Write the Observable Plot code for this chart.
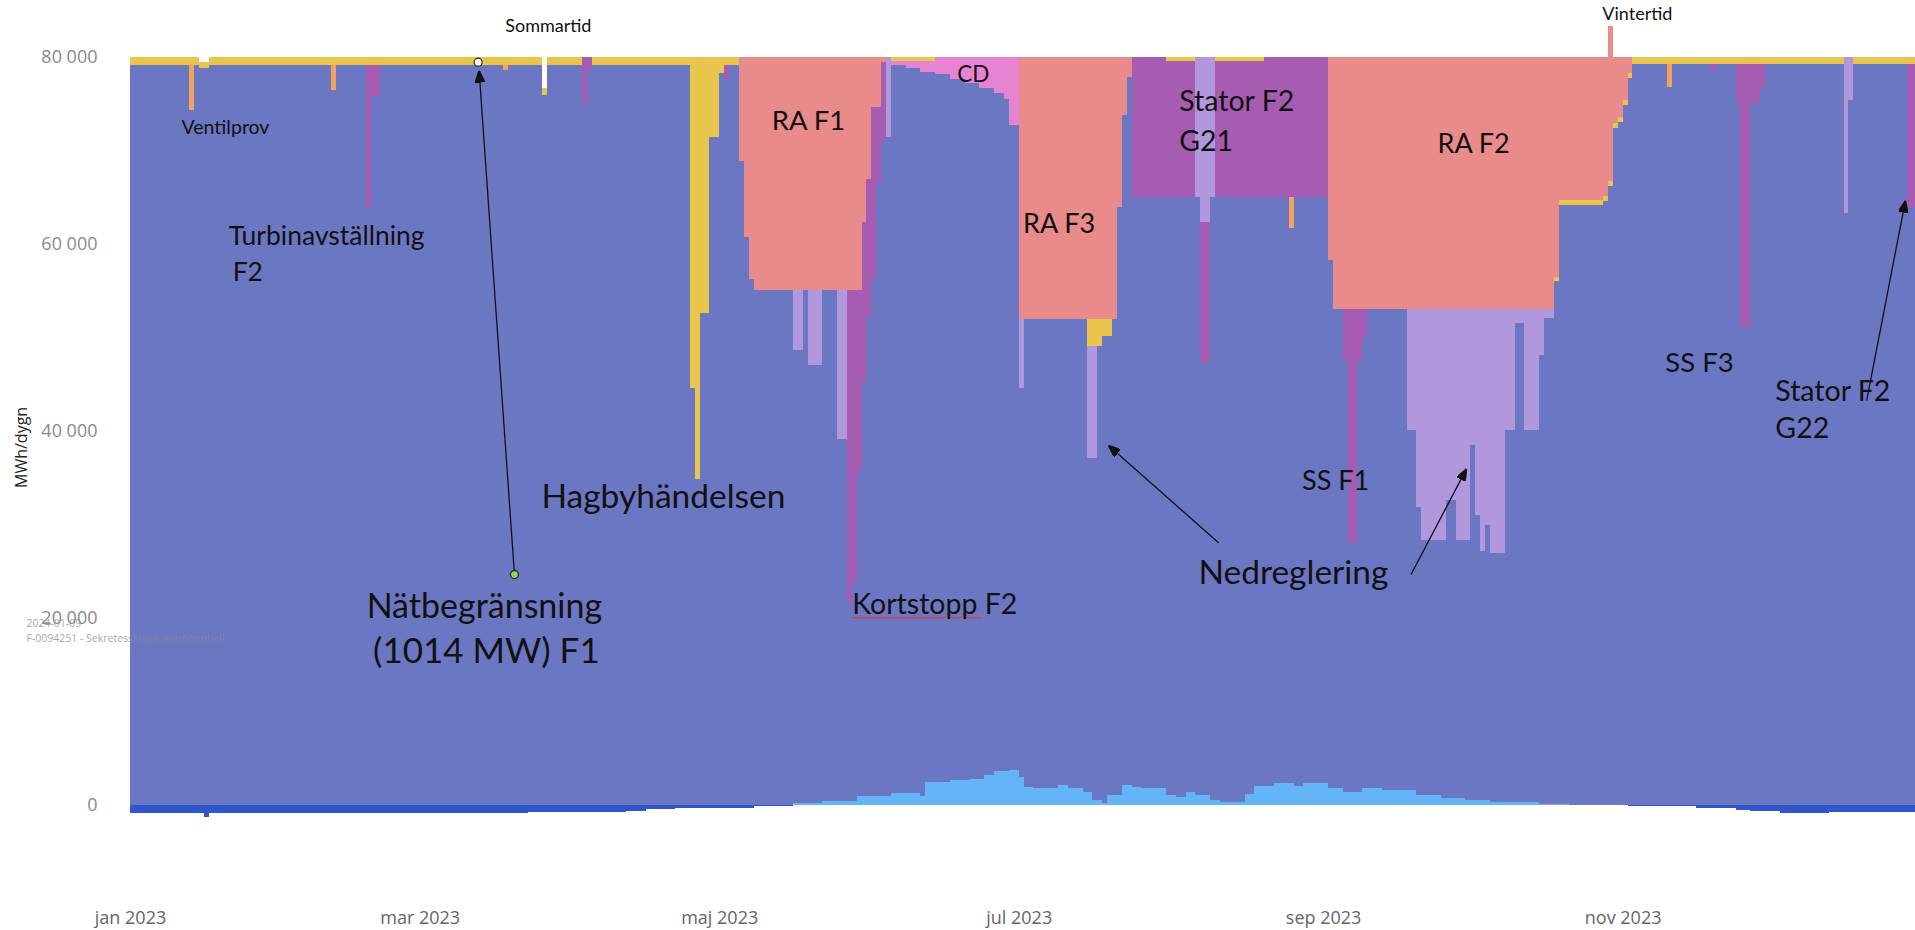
<!DOCTYPE html>
<html>
<head>
<meta charset="utf-8">
<script src="https://cdn.jsdelivr.net/npm/d3@7"></script>
<script src="https://cdn.jsdelivr.net/npm/@observablehq/plot@0.6"></script>
<style>
  html, body { margin: 0; padding: 0; background: #ffffff; }
  #chart { width: 1915px; height: 930px; }
</style>
</head>
<body>
<div id="chart"></div>
<script>
// ---------- DATA (MWh/dygn), change points: [dag (0 = 1 jan 2023), värde] ----------
// each value holds until the next change point (daily step data)
const kapacitet = [[0, 80000], [14, 79500], [16, 80000], [84, 76700], [85, 80000], [301, 83300], [302, 80000]];

// Revisionsavställningar (RA F1, RA F3, RA F2)
const revision = [[0, 0], [124, 11100], [125, 19300], [126, 23700], [127, 24900], [149, 17600], [150, 13100], [151, 5400], [153, 500], [154, 0],
  [181, 28000], [201, 16000], [202, 6200], [203, 2100], [204, 0],
  [244, 21700], [245, 26900], [290, 23500], [291, 15300], [300, 14900], [301, 16600], [302, 7100], [303, 6400], [304, 4600], [305, 1700], [306, 0]];

// Övrigt / nätbegränsning (gul)
const ovrigt = [[0, 900], [14, 700], [16, 900], [84, 800], [85, 900], [92, 0], [94, 900],
  [114, 35400], [115, 45100], [116, 27400], [118, 8600], [120, 1700], [121, 900], [124, 0],
  [155, 400], [164, 0], [195, 2900], [198, 1800], [200, 0],
  [211, 400], [217, 0], [221, 400], [231, 0], [290, 500], [306, 700], [349, 0], [351, 700]];

// Coast down (CD)
const coastdown = [[0, 0], [155, 500], [158, 800], [161, 1200], [164, 1800], [167, 2300], [170, 2800], [173, 3300], [176, 3900], [178, 4500], [179, 7300], [181, 0]];

// Nedreglering
const nedreglering = [[0, 0], [135, 6400], [137, 0], [138, 8000], [141, 0], [144, 16000], [146, 0], [154, 8600], [155, 0],
  [181, 7400], [182, 0], [195, 12000], [197, 0],
  [217, 15000], [218, 17600], [220, 15000], [221, 0],
  [260, 13000], [262, 21200], [263, 24800], [268, 20500], [270, 24800], [273, 14600], [274, 22100], [275, 25900], [276, 23200], [277, 26200],
  [280, 13000], [282, 1500], [284, 13000], [287, 5000], [288, 1000], [290, 0],
  [349, 16700], [350, 4600], [351, 0]];

// Störningar: turbinavställning, kortstopp, stator, SS (lila)
const storning = [[0, 0], [48, 15100], [49, 3300], [51, 0], [92, 5100], [93, 1400], [94, 0], [121, 1500], [122, 0],
  [146, 33600], [147, 31100], [148, 19300], [149, 17200], [150, 14700], [151, 18300], [152, 8100], [153, 8500], [154, 0],
  [204, 15000], [211, 14600], [217, 0], [218, 15100], [220, 0], [221, 14600], [231, 15000], [244, 0],
  [247, 5500], [248, 25100], [250, 5500], [251, 3000], [252, 0],
  [322, 900], [323, 0], [327, 4200], [328, 28100], [330, 4200], [332, 2500], [333, 0], [362, 15300]];

// Ventilprov (orange)
const ventilprov = [[0, 0], [12, 4800], [13, 0], [41, 2600], [42, 0], [76, 500], [77, 0], [236, 3300], [237, 0], [313, 2500], [314, 0]];

// Havsvattentemperatur: vinst (negativ) / förlust (positiv)
const havsvatten = [[0, -850], [15, -1300], [16, -850], [41, -900], [81, -800], [101, -600], [105, -400], [111, -300], [118, -350], [127, -150],
  [135, 200], [141, 400], [148, 1000], [155, 1300], [161, 1000], [162, 2500], [167, 2700], [171, 2800], [174, 3200], [176, 3600], [179, 3700],
  [181, 3000], [182, 1900], [184, 1800], [189, 2100], [191, 1800], [194, 1400], [196, 500], [198, 200], [199, 1100], [202, 2100], [204, 1900],
  [206, 1800], [211, 1100], [213, 900], [215, 1400], [217, 1100], [220, 500], [222, 300], [227, 1200], [229, 2000], [233, 2400], [237, 2000],
  [239, 2300], [244, 1800], [247, 1400], [251, 1800], [255, 1600], [262, 1100], [267, 700], [272, 500], [277, 350], [287, 100], [293, 0],
  [298, -50], [305, -150], [319, -300], [327, -500], [330, -600], [336, -900], [346, -700], [357, -800]];

// Axes
const xTickDays = [0, 59, 120, 181, 243, 304];
const xTickLabels = ["jan 2023", "mar 2023", "maj 2023", "jul 2023", "sep 2023", "nov 2023"];
const yTicks = [0, 20000, 40000, 60000, 80000];
const yTickLabels = ["0", "20 000", "40 000", "60 000", "80 000"];

// Series names, colours (stack order bottom -> top)
const seriesNames = ["Havsvatten vinst", "Havsvatten förlust", "Produktion", "Ventilprov", "Störning", "Nedreglering", "CD", "Övrigt", "RA"];
const seriesColors = ["#2f56cb", "#63b5f8", "#6c77c3", "#f2a35f", "#a65cb0", "#b197dc", "#e784d2", "#e8c64c", "#e98b8b"];

// Annotations (day, value)
const annotations = [
  {text: "Sommartid", day: 85.1, value: 83300, size: 18, anchor: "middle"},
  {text: "Vintertid", day: 306.9, value: 84600, size: 18, anchor: "middle"},
  {text: "Ventilprov", day: 10.4, value: 72500, size: 19.5, anchor: "start"},
  {text: "Turbinavställning", day: 20.0, value: 60900, size: 26.5, anchor: "start"},
  {text: "F2", day: 20.8, value: 57000, size: 26.5, anchor: "start"},
  {text: "Hagbyhändelsen", day: 83.7, value: 33000, size: 33.5, anchor: "start"},
  {text: "Nätbegränsning", day: 48.1, value: 21200, size: 34, anchor: "start"},
  {text: "(1014 MW) F1", day: 49.4, value: 16400, size: 35, anchor: "start"},
  {text: "RA F1", day: 130.6, value: 73200, size: 27.5, anchor: "start"},
  {text: "CD", day: 168.4, value: 78200, size: 22.5, anchor: "start"},
  {text: "RA F3", day: 181.8, value: 62200, size: 27, anchor: "start"},
  {text: "Stator F2", day: 213.6, value: 75300, size: 28.5, anchor: "start"},
  {text: "G21", day: 213.6, value: 71000, size: 28.5, anchor: "start"},
  {text: "RA F2", day: 266.2, value: 70700, size: 27, anchor: "start"},
  {text: "Kortstopp F2", day: 147.0, value: 21500, size: 28.5, anchor: "start"},
  {text: "SS F1", day: 238.6, value: 34700, size: 27, anchor: "start"},
  {text: "Nedreglering", day: 217.5, value: 24800, size: 33.5, anchor: "start"},
  {text: "SS F3", day: 312.6, value: 47300, size: 27.5, anchor: "start"},
  {text: "Stator F2", day: 335.0, value: 44200, size: 28.5, anchor: "start"},
  {text: "G22", day: 335.0, value: 40300, size: 28.5, anchor: "start"}
];
const arrows = [
  {d1: 78.2, v1: 24700, d2: 71.0, v2: 78600},
  {d1: 221.6, v1: 28100, d2: 199.2, v2: 38500},
  {d1: 260.8, v1: 24700, d2: 272.1, v2: 36000},
  {d1: 353.6, v1: 43300, d2: 361.5, v2: 64700}
];
const markers = [
  {day: 70.8, value: 79500, fill: "#ffffff"},
  {day: 78.2, value: 24700, fill: "#9bd35a"}
];
const watermark = [
  {text: "2024-01-09", day: -21.2, value: 19400},
  {text: "F-0094251 - Sekretessklass: Konfidentiell", day: -21.2, value: 17900}
];

// ---------- BUILD TABLE ----------
const T0 = Date.UTC(2023, 0, 1);
const DAY = 864e5;
const toDate = d => new Date(T0 + d * DAY);
function valueAt(cp, day) {
  let v = 0;
  for (const [d, val] of cp) { if (d <= day) v = val; else break; }
  return v;
}
const losses = [["Ventilprov", ventilprov], ["Störning", storning], ["Nedreglering", nedreglering], ["CD", coastdown], ["Övrigt", ovrigt], ["RA", revision]];
const daySet = new Set([0, 365]);
for (const cp of [kapacitet, havsvatten, ...losses.map(l => l[1])]) for (const [d] of cp) daySet.add(d);
const days = Array.from(daySet).sort((a, b) => a - b);
const rows = [];
for (const day of days) {
  const date = toDate(day);
  const cap = valueAt(kapacitet, day);
  const hv = valueAt(havsvatten, day);
  let sum = 0;
  for (const [name, cp] of losses) {
    const v = valueAt(cp, day);
    sum += v;
    rows.push({date, serie: name, value: v});
  }
  rows.push({date, serie: "Havsvatten vinst", value: Math.min(hv, 0)});
  rows.push({date, serie: "Havsvatten förlust", value: Math.max(hv, 0)});
  rows.push({date, serie: "Produktion", value: cap - sum - Math.max(hv, 0)});
}

const tickLabelMap = new Map(xTickDays.map((d, i) => [+toDate(d), xTickLabels[i]]));
const yLabelMap = new Map(yTicks.map((v, i) => [v, yTickLabels[i]]));

function filledArrow(color, context) {
  const doc = (context && context.document) || document;
  const ns = "http://www.w3.org/2000/svg";
  const m = doc.createElementNS(ns, "marker");
  m.setAttribute("viewBox", "-10 -4 10 8");
  m.setAttribute("markerWidth", "12");
  m.setAttribute("markerHeight", "9.6");
  m.setAttribute("markerUnits", "userSpaceOnUse");
  m.setAttribute("orient", "auto");
  m.setAttribute("fill", "#111");
  const p = doc.createElementNS(ns, "path");
  p.setAttribute("d", "M-10,-4L0,0L-10,4Z");
  m.appendChild(p);
  return m;
}

const chart = Plot.plot({
  width: 1915,
  height: 930,
  marginLeft: 130,
  marginRight: 0,
  marginTop: 0,
  marginBottom: 22,
  style: {fontFamily: "'Open Sans', sans-serif", background: "#ffffff", overflow: "visible"},
  x: {type: "utc", domain: [toDate(0), toDate(363.55)], range: [130, 1915]},
  y: {domain: [0, 80000], range: [805, 57]},
  color: {domain: seriesNames, range: seriesColors},
  marks: [
    Plot.areaY(rows, {x: "date", y: "value", z: "serie", fill: "serie", order: seriesNames, curve: "step-after", shapeRendering: "crispEdges"}),
    Plot.axisX(xTickDays.map(toDate), {tickSize: 0, tickPadding: 3, fontSize: 18, fill: "#666", label: null, tickFormat: d => tickLabelMap.get(+d)}),
    Plot.axisY(yTicks, {tickSize: 0, tickPadding: 33, fontSize: 18, fill: "#8a8a8a", label: null, tickFormat: v => yLabelMap.get(v)}),
    Plot.text(["MWh/dygn"], {x: toDate(-22.2), y: 38300, rotate: -90, fontSize: 16, fill: "#222"}),
    Plot.text(watermark, {x: d => toDate(d.day), y: "value", text: "text", textAnchor: "start", fontSize: 10.5, fill: "#888", fillOpacity: 0.75}),
    Plot.link([{d1: 147.0, d2: 173.4, v: 20100}], {x1: d => toDate(d.d1), x2: d => toDate(d.d2), y1: "v", y2: "v", stroke: "#e0403a", strokeWidth: 1.2}),
    Plot.link(arrows, {x1: d => toDate(d.d1), y1: "v1", x2: d => toDate(d.d2), y2: "v2", stroke: "#111", strokeWidth: 1.3, markerEnd: filledArrow}),
    Plot.dot(markers, {x: d => toDate(d.day), y: "value", r: 4, fill: "fill", stroke: "#222", strokeWidth: 1.2}),
    Plot.text(annotations, {x: d => toDate(d.day), y: "value", text: "text", textAnchor: "start", fontSize: "size", fontFamily: "Lato", fill: "#111", filter: d => d.anchor === "start"}),
    Plot.text(annotations, {x: d => toDate(d.day), y: "value", text: "text", textAnchor: "middle", fontSize: "size", fontFamily: "Lato", fill: "#111", filter: d => d.anchor === "middle"})
  ]
});
document.getElementById("chart").appendChild(chart);
</script>
</body>
</html>
